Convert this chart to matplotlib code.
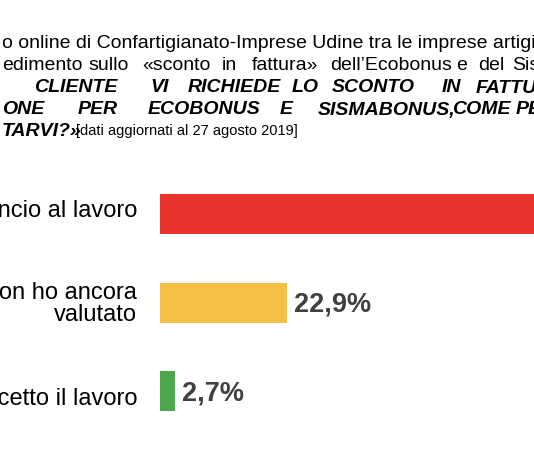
import matplotlib
matplotlib.use("Agg")
import matplotlib.pyplot as plt

categories = ["Rinuncio al lavoro", "Non ho ancora\nvalutato", "Accetto il lavoro"]
values = [74.4, 22.9, 2.7]
value_labels = ["74,4%", "22,9%", "2,7%"]
colors = ["#e8322a", "#f4c146", "#4ca84f"]

W, H = 534, 462
fig = plt.figure(figsize=(W/100, H/100), dpi=100)
fam = ["Liberation Sans", "DejaVu Sans"]

def fx(px): return px / W
def fy(py): return 1 - py / H

ax = fig.add_axes([fx(160), fy(440), fx(W-160)+0.01, (440-170)/H])
ypos = [0, 1, 2]
ax.barh(ypos, values, height=0.45, color=colors)
ax.set_xlim(0, (W-160)/5.46)
ax.set_ylim(2.55, -0.5)
ax.axis("off")
for y, v, lab in zip(ypos, values, value_labels):
    ax.text(v + 1.3, y + 0.02, lab, va="center", ha="left", fontsize=19.5,
            fontweight="bold", color="#404040", family=fam)
for y, c in zip(ypos, categories):
    fig.text(fx(137), fy([211, 304, 399][y]), c, ha="right", va="center",
             fontsize=17, color="black", family=fam, linespacing=1.05)

hs = 14
fig.text(fx(2), fy(44), "o online di Confartigianato-Imprese Udine tra le imprese artigiane",
         fontsize=hs, family=fam, va="center")
l2 = [("edimento", 2), ("sullo", 88), ("«sconto", 142), ("in", 222), ("fattura»", 252),
      ("dell’Ecobonus", 330), ("e", 456), ("del", 478), ("Sismabonus", 512)]
for w, x in l2:
    fig.text(fx(x), fy(66), w, fontsize=hs, family=fam, va="center")
l3 = [("CLIENTE", 34), ("VI", 150), ("RICHIEDE", 188), ("LO", 292), ("SCONTO", 332),
      ("IN", 442), ("FATTURA,", 476)]
for w, x in l3:
    fig.text(fx(x), fy(88), w, fontsize=hs, family=fam, va="center",
             fontweight="bold", style="italic")
l4 = [("ONE", 2), ("PER", 78), ("ECOBONUS", 148), ("E", 280), ("SISMABONUS,", 318),
      ("COME", 452), ("PER", 516)]
for w, x in l4:
    fig.text(fx(x), fy(110), w, fontsize=hs, family=fam, va="center",
             fontweight="bold", style="italic")
fig.text(fx(2), fy(131), "TARVI?»", fontsize=hs, family=fam, va="center",
         fontweight="bold", style="italic")
fig.text(fx(76), fy(131), "[dati aggiornati al 27 agosto 2019]", fontsize=10.5,
         family=fam, va="center")

fig.savefig("out.png", dpi=100)
